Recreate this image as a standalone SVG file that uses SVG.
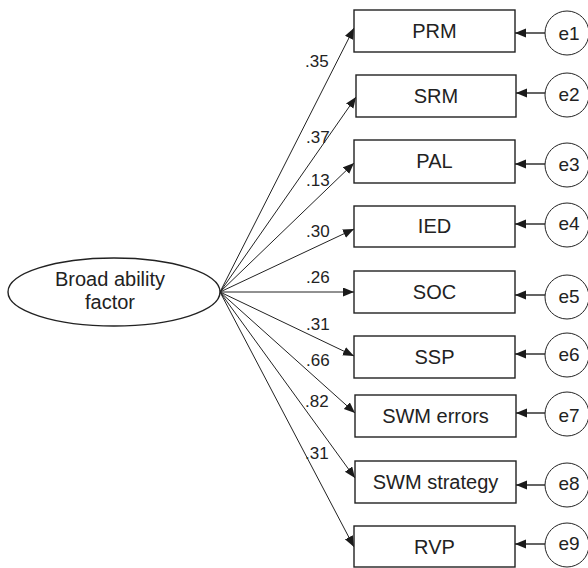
<svg xmlns="http://www.w3.org/2000/svg" width="588" height="568" viewBox="0 0 588 568">
<defs>
<marker id="ah" markerUnits="userSpaceOnUse" markerWidth="13" markerHeight="11" refX="11" refY="4.5" orient="auto">
<path d="M0,0 L11,4.5 L0,9 Z" fill="#1a1a1a"/>
</marker>
</defs>
<style>
.box{fill:#fff;stroke:#222;stroke-width:1.4}
.err{fill:#fff;stroke:#222;stroke-width:1}
.lat{fill:#fff;stroke:#222;stroke-width:1.4}
.t{font-family:"Liberation Sans",Arial,sans-serif;font-size:20px;fill:#222;text-anchor:middle}
.et{font-family:"Liberation Sans",Arial,sans-serif;font-size:19px;fill:#222;text-anchor:middle}
.lb{font-family:"Liberation Sans",Arial,sans-serif;font-size:17px;fill:#222}
.c{stroke:#222;stroke-width:1;fill:none;marker-end:url(#ah)}
.ce{stroke:#222;stroke-width:1.4;fill:none;marker-end:url(#ah)}
</style>
<rect width="588" height="568" fill="#fff"/>
<g id="connectors">
<line class="c" x1="220" y1="292" x2="354" y2="28"/>
<line class="c" x1="220" y1="292" x2="356" y2="97"/>
<line class="c" x1="220" y1="292" x2="354" y2="163"/>
<line class="c" x1="220" y1="292" x2="354" y2="229"/>
<line class="c" x1="220" y1="292" x2="354" y2="292"/>
<line class="c" x1="220" y1="292" x2="354" y2="356"/>
<line class="c" x1="220" y1="292" x2="355" y2="413"/>
<line class="c" x1="220" y1="292" x2="355" y2="478"/>
<line class="c" x1="220" y1="292" x2="354" y2="547"/>
<line class="ce" x1="545" y1="33" x2="515" y2="33"/>
<line class="ce" x1="545" y1="93" x2="516" y2="93"/>
<line class="ce" x1="545" y1="164" x2="515" y2="164"/>
<line class="ce" x1="545" y1="224" x2="515" y2="224"/>
<line class="ce" x1="545" y1="295" x2="515" y2="295"/>
<line class="ce" x1="545" y1="354" x2="515" y2="354"/>
<line class="ce" x1="545" y1="413" x2="516" y2="413"/>
<line class="ce" x1="545" y1="485" x2="516" y2="485"/>
<line class="ce" x1="545" y1="544" x2="515" y2="544"/>
<text class="lb" x="305" y="67">.35</text>
<text class="lb" x="306" y="143">.37</text>
<text class="lb" x="306" y="186">.13</text>
<text class="lb" x="306" y="237">.30</text>
<text class="lb" x="306" y="283">.26</text>
<text class="lb" x="306" y="330">.31</text>
<text class="lb" x="306" y="366">.66</text>
<text class="lb" x="305" y="407">.82</text>
<text class="lb" x="305" y="459">.31</text>
</g>
<g id="factor">
<ellipse class="lat" cx="114" cy="292" rx="106" ry="34"/>
<text class="t" x="110" y="286">Broad ability</text>
<text class="t" x="110" y="309">factor</text>
</g>
<g id="PRM"><rect class="box" x="354" y="10" width="161" height="42"/><text class="t" x="434.5" y="38">PRM</text></g>
<g id="SRM"><rect class="box" x="356" y="75" width="160" height="42"/><text class="t" x="436" y="103">SRM</text></g>
<g id="PAL"><rect class="box" x="354" y="140" width="161" height="43"/><text class="t" x="434.5" y="168">PAL</text></g>
<g id="IED"><rect class="box" x="354" y="206" width="161" height="41"/><text class="t" x="434.5" y="233">IED</text></g>
<g id="SOC"><rect class="box" x="354" y="271" width="161" height="42"/><text class="t" x="434.5" y="299">SOC</text></g>
<g id="SSP"><rect class="box" x="354" y="336" width="161" height="42"/><text class="t" x="434.5" y="364">SSP</text></g>
<g id="SWMerrors"><rect class="box" x="355" y="395" width="161" height="42"/><text class="t" x="435.5" y="423">SWM errors</text></g>
<g id="SWMstrategy"><rect class="box" x="355" y="461" width="161" height="42"/><text class="t" x="435.5" y="489">SWM strategy</text></g>
<g id="RVP"><rect class="box" x="354" y="526" width="161" height="41"/><text class="t" x="434.5" y="554">RVP</text></g>
<g id="e1"><circle class="err" cx="567" cy="33" r="22"/><text class="et" x="569" y="40">e1</text></g>
<g id="e2"><circle class="err" cx="567" cy="95" r="22"/><text class="et" x="569" y="101">e2</text></g>
<g id="e3"><circle class="err" cx="567" cy="165" r="22"/><text class="et" x="569" y="171">e3</text></g>
<g id="e4"><circle class="err" cx="567" cy="225" r="22"/><text class="et" x="569" y="230">e4</text></g>
<g id="e5"><circle class="err" cx="567" cy="297" r="22"/><text class="et" x="569" y="303">e5</text></g>
<g id="e6"><circle class="err" cx="567" cy="355" r="22"/><text class="et" x="569" y="361">e6</text></g>
<g id="e7"><circle class="err" cx="567" cy="414" r="22"/><text class="et" x="569" y="422">e7</text></g>
<g id="e8"><circle class="err" cx="567" cy="485" r="22"/><text class="et" x="569" y="490">e8</text></g>
<g id="e9"><circle class="err" cx="567" cy="545" r="22"/><text class="et" x="569" y="550">e9</text></g>
</svg>
